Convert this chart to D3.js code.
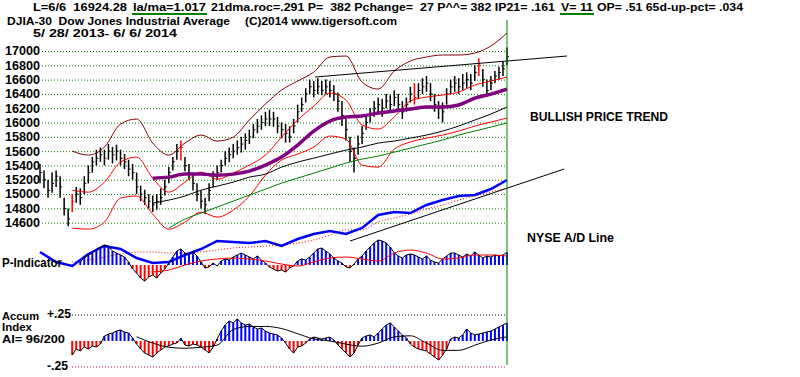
<!DOCTYPE html>
<html>
<head>
<meta charset="utf-8">
<script src="https://cdn.jsdelivr.net/npm/d3@7"></script>
<style>
  body { margin: 0; background: #fff; }
  svg { display: block; font-family: "Liberation Sans", Arial, sans-serif; font-weight: bold; }
  text { white-space: pre; }
</style>
</head>
<body>
<div id="chart"></div>
<script>
// ---- data ----
const priceTicks = [14600, 14800, 15000, 15200, 15400, 15600, 15800, 16000, 16200, 16400, 16600, 16800, 17000];

// daily-ish bars, 5/28/2013 .. 6/6/2014
const barClose = [
  15300,15200,15050,15150,15250,15100,14800,14650,14900,15000,
  14950,15150,15300,15450,15500,15550,15500,15600,15550,15600,
  15500,15450,15350,15300,15100,15000,14950,14900,14850,14900,
  14950,15100,15300,15450,15600,15650,15400,15300,15150,15000,
  14900,14850,15050,15250,15300,15400,15500,15550,15600,15650,
  15700,15750,15800,15900,15950,16000,16050,16050,16050,15950,
  15900,15850,15800,15950,16150,16250,16400,16500,16450,16500,
  16450,16500,16450,16400,16300,16100,15900,15600,15500,15700,
  15850,16000,16100,16200,16250,16200,16300,16250,16350,16250,
  16150,16250,16400,16350,16450,16500,16550,16400,16250,16200,
  16150,16400,16500,16550,16500,16550,16600,16550,16700,16800,
  16600,16450,16550,16650,16700,16750,16920
];
const barHi = [
  15420,15330,15200,15300,15330,15250,14950,14800,15000,15100,
  15080,15250,15400,15520,15620,15650,15620,15700,15660,15690,
  15620,15560,15480,15420,15300,15120,15060,15000,14980,15000,
  15080,15200,15380,15520,15700,15750,15520,15420,15300,15150,
  15050,14950,15150,15320,15400,15480,15600,15650,15700,15750,
  15800,15850,15900,15980,16050,16100,16150,16180,16150,16080,
  16000,15980,15950,16050,16250,16350,16480,16600,16580,16620,
  16580,16600,16580,16520,16420,16300,16050,15800,15650,15820,
  15950,16100,16200,16300,16350,16330,16400,16380,16450,16400,
  16300,16350,16500,16550,16550,16620,16650,16550,16400,16300,
  16280,16480,16600,16650,16620,16680,16700,16680,16800,16900,
  16750,16600,16650,16720,16780,16850,17050
];
const barLo = [
  15150,15080,14950,15020,15100,14950,14700,14550,14750,14880,
  14850,15000,15150,15300,15400,15450,15400,15480,15430,15470,
  15400,15350,15250,15200,15000,14900,14850,14800,14750,14780,
  14850,14980,15150,15330,15480,15470,15320,15200,15050,14900,
  14800,14720,14900,15100,15200,15300,15400,15450,15500,15550,
  15580,15620,15700,15780,15850,15900,15950,15950,15940,15850,
  15780,15720,15720,15850,16000,16150,16280,16400,16350,16400,
  16380,16400,16350,16300,16150,15950,15750,15450,15300,15550,
  15700,15900,16000,16080,16130,16080,16200,16150,16230,16150,
  16050,16150,16280,16250,16330,16400,16430,16300,16150,16050,
  16000,16250,16400,16430,16400,16450,16480,16450,16580,16650,
  16500,16360,16450,16550,16600,16650,16800
];
const redBars = [8, 35, 93, 109];

// overlay lines, sampled every 4th bar
const ovIdx = [0,4,8,12,16,20,24,28,32,36,40,44,48,52,56,60,64,68,72,76,80,84,88,92,96,100,104,108,112,116];
const brownBand = [null,null,15601,15545,15657,15979,16049,15713,15545,15713,15825,15741,15797,16035,16259,16454,16580,16706,16916,16930,16566,16468,16720,16860,16916,16944,16944,16972,17070,17252];
const redUpper  = [null,null,15055,15027,15167,15447,15517,15223,15027,15167,15307,15209,15293,15405,15545,15797,16035,16230,16412,16314,15965,15909,16077,16301,16356,16384,16426,16524,16580,16636];
const redLower  = [null,null,14524,14510,14608,14944,14972,14720,14510,14608,14748,14678,14776,14972,15265,15475,15559,15657,15811,15769,15405,15377,15629,15727,15783,15825,15881,15951,16007,16063];
const purpleMA  = [null,null,null,null,null,null,null,15223,15237,15279,15279,15265,15279,15321,15405,15517,15685,15881,16021,16077,16091,16133,16161,16189,16217,16217,16245,16342,16398,16468];
const blackMA   = [null,null,null,null,null,null,null,14874,14916,14972,15055,15111,15167,15237,15279,15377,15447,15503,15559,15615,15657,15713,15741,15783,15825,15881,15951,16035,16119,16217];
const greenMA   = [null,null,null,null,null,null,null,null,14524,14650,14734,14818,14902,14986,15069,15153,15223,15293,15363,15433,15489,15531,15587,15643,15699,15755,15825,15881,15937,15993];
const adLine    = [28,18,14,26,34,31,22,17,18,25,31,39,38,37,39,34,41,46,49,46,52,65,68,67,75,80,84,85,91,100];
const adMA      = [null,null,18,20,23,26,28,28,27,27,28,30,32,33,34,35,37,40,45,50,50,58,62,66,71,75,80,84,88,92];
const pMA       = [null,null,null,null,null,null,null,-210,-150,0,120,180,210,180,120,30,-30,90,210,240,180,120,360,450,360,180,210,300,300,270];
const aiMA      = [null,null,null,null,null,null,0.04,-0.02,-0.06,-0.07,-0.06,-0.04,0.11,0.14,0.14,0.12,0.07,0.02,0,-0.03,-0.05,-0.02,0.04,0.05,-0.02,-0.09,-0.09,-0.04,0.01,0.04];

// trend lines: [bar index, value]
const priceTrend = [[68.3, 16636], [130.9, 16930]];
const adTrend = [[77, 39], [130.2, 111]];

// P-Indicator, one per bar
const pInd = [
  null,null,null,null,null,null,null,null,null,null,
  90,240,300,360,480,540,600,570,420,360,
  300,240,90,-120,-240,-390,-480,-360,-300,-390,
  -240,-120,60,240,420,480,360,300,390,270,
  90,-90,-60,60,-30,120,180,150,240,300,
  360,300,240,180,270,150,60,-60,-120,-180,
  -150,-210,-90,-30,120,180,150,240,360,480,
  510,420,330,210,120,60,-60,-90,30,180,
  270,420,540,660,750,720,660,540,360,270,
  210,300,330,300,240,180,270,150,90,60,
  180,270,360,360,300,240,330,270,390,300,
  210,270,240,300,270,300,382
];
// Accumulation index, one per bar
const accum = [
  null,null,null,null,null,null,null,null,-0.135,-0.077,
  -0.096,-0.058,-0.077,-0.048,-0.058,-0.029,0.048,0.067,0.077,0.096,
  0.106,0.087,0.077,0.029,-0.029,-0.077,-0.115,-0.135,-0.154,-0.115,
  -0.087,-0.058,-0.048,-0.029,-0.019,0.029,-0.038,-0.048,-0.029,-0.038,
  -0.058,-0.087,-0.115,-0.058,0.019,0.096,0.154,0.192,0.173,0.212,
  0.173,0.154,0.163,0.135,0.115,0.125,0.096,0.077,0.067,0.058,
  0.029,-0.019,-0.077,-0.115,-0.058,-0.048,-0.019,0.019,0.038,0.029,
  0.019,0.029,0.038,0.010,-0.038,-0.077,-0.115,-0.154,-0.115,-0.038,
  0.029,0.048,0.058,0.038,0.077,0.115,0.154,0.173,0.135,0.096,
  0.058,0.029,-0.029,-0.058,-0.077,-0.087,-0.096,-0.125,-0.154,-0.183,
  -0.135,-0.077,0.019,0.038,0.029,0.058,0.115,0.077,0.058,0.067,
  0.077,0.087,0.096,0.115,0.135,0.154,0.173
];

// ---- drawing ----
const W = 800, H = 377;
const n = barClose.length;

const svg = d3.select("#chart").append("svg")
  .attr("width", W).attr("height", H);

const x   = d3.scaleLinear().domain([0, n - 1]).range([40, 507]);
const y   = d3.scaleLinear().domain([14600, 17000]).range([222.7, 51]);
const yAD = d3.scaleLinear().domain([0, 100]).range([280, 180]);
const yP  = d3.scaleLinear().domain([0, 300]).range([265, 255]);
const yAI = d3.scaleLinear().domain([-0.25, 0.25]).range([367, 315]);

// header
function txt(s, px, py, len, size) {
  const t = svg.append("text").attr("x", px).attr("y", py)
    .attr("font-size", size || 12).text(s);
  if (len) t.attr("textLength", len).attr("lengthAdjust", "spacingAndGlyphs");
  return t;
}
txt("L=6/6  16924.28", 33, 11, 94, 11);
txt("la/ma=1.017", 133, 11, 73, 11);
txt("21dma.roc=.291 P=  382 Pchange=  27 P^^= 382 IP21= .161", 211, 11, 344, 11);
txt("V= 11", 561, 11, 32, 11);
txt("OP= .51 65d-up-pct= .034", 597, 11, 146, 11);
svg.append("line").attr("x1", 132).attr("x2", 207).attr("y1", 14).attr("y2", 14)
  .attr("stroke", "#008000").attr("stroke-width", 2);
svg.append("line").attr("x1", 560).attr("x2", 594).attr("y1", 14).attr("y2", 14)
  .attr("stroke", "#008000").attr("stroke-width", 2);
txt("DJIA-30  Dow Jones Industrial Average", 7, 25, 223, 11);
txt("(C)2014 www.tigersoft.com", 245, 25, 152, 11);
txt("5/ 28/ 2013- 6/ 6/ 2014", 33, 37, 144, 11);

// price grid
svg.append("g")
  .attr("transform", "translate(42,0)")
  .call(d3.axisLeft(y).tickValues(priceTicks).tickSize(-(507 - 42)).tickFormat(""))
  .call(g => g.select(".domain").remove())
  .selectAll("line")
    .attr("stroke", "#008000")
    .attr("stroke-dasharray", "1,2");

// price labels
svg.append("g")
  .attr("transform", "translate(40,0)")
  .call(d3.axisLeft(y).tickValues(priceTicks).tickSize(0).tickPadding(0).tickFormat(d3.format("d")))
  .call(g => g.select(".domain").remove())
  .selectAll("text")
    .attr("font-family", "Liberation Sans, Arial, sans-serif")
    .attr("font-weight", "bold")
    .attr("font-size", 12)
    .attr("textLength", 35)
    .attr("lengthAdjust", "spacingAndGlyphs")
    .attr("fill", "#000");

// price bars
const bars = svg.append("g");
d3.range(n).forEach(i => {
  const col = redBars.includes(i) ? "#ff0000" : "#000";
  bars.append("line")
    .attr("x1", x(i)).attr("x2", x(i))
    .attr("y1", y(barHi[i])).attr("y2", y(barLo[i]))
    .attr("stroke", col).attr("stroke-width", 1.5);
  bars.append("line")
    .attr("x1", x(i)).attr("x2", x(i) + 2)
    .attr("y1", y(barClose[i])).attr("y2", y(barClose[i]))
    .attr("stroke", col).attr("stroke-width", 1);
});

function sampled(arr) {
  return ovIdx.map((i, k) => [i, arr[k]]).filter(d => d[1] !== null);
}
function drawLine(pts, sy, color, width, dash, curve) {
  const line = d3.line()
    .x(d => x(d[0])).y(d => sy(d[1]))
    .curve(curve || d3.curveMonotoneX);
  const p = svg.append("path").datum(pts)
    .attr("d", line).attr("fill", "none")
    .attr("stroke", color).attr("stroke-width", width);
  if (dash) p.attr("stroke-dasharray", dash);
  return p;
}

drawLine(sampled(brownBand), y, "#800000", 1);
drawLine(sampled(redUpper), y, "#ff0000", 1);
drawLine(sampled(redLower), y, "#ff0000", 1);
drawLine(sampled(greenMA), y, "#008000", 1);
drawLine(sampled(blackMA), y, "#000", 1);
drawLine(sampled(purpleMA), y, "#800080", 3.5);
drawLine(priceTrend, y, "#000", 1, null, d3.curveLinear);

// A/D line
drawLine(sampled(adMA), yAD, "#ff0000", 1, "1,2");
drawLine(sampled(adLine), yAD, "#0000ff", 2.5, null, d3.curveLinear);
drawLine(adTrend, yAD, "#000", 1, null, d3.curveLinear);

// P-Indicator
const pG = svg.append("g");
d3.range(n).filter(i => pInd[i] !== null).forEach(i => {
  pG.append("line")
    .attr("x1", x(i)).attr("x2", x(i))
    .attr("y1", yP(0)).attr("y2", yP(pInd[i]))
    .attr("stroke", pInd[i] >= 0 ? "#0000ff" : "#ff0000")
    .attr("stroke-width", 2);
});
drawLine(d3.range(n).filter(i => pInd[i] !== null).map(i => [i, pInd[i]]), yP, "#000", 1, null, d3.curveLinear);
drawLine(sampled(pMA), yP, "#ff0000", 1);

// Accumulation index
[[0.25, "#000"], [-0.25, "#e0006a"]].forEach(([v, c]) => {
  svg.append("line")
    .attr("x1", 72).attr("x2", 507)
    .attr("y1", yAI(v)).attr("y2", yAI(v))
    .attr("stroke", c).attr("stroke-dasharray", "1,2");
});
const aG = svg.append("g");
d3.range(n).filter(i => accum[i] !== null).forEach(i => {
  aG.append("line")
    .attr("x1", x(i)).attr("x2", x(i))
    .attr("y1", yAI(0)).attr("y2", yAI(accum[i]))
    .attr("stroke", accum[i] >= 0 ? "#0000ff" : "#ff0000")
    .attr("stroke-width", 2);
});
drawLine(d3.range(n).filter(i => accum[i] !== null).map(i => [i, accum[i]]), yAI, "#000", 1, null, d3.curveLinear);
drawLine(sampled(aiMA), yAI, "#000", 1);

// current-day marker
svg.append("line")
  .attr("x1", x(n - 1)).attr("x2", x(n - 1))
  .attr("y1", 20).attr("y2", 365)
  .attr("stroke", "#008000").attr("stroke-width", 1);

// side labels
txt("BULLISH PRICE TREND", 530, 121, 138);
txt("NYSE A/D Line", 527, 242, 87);
txt("P-Indicator", 2, 267, 60);
txt("Accum", 2, 320, 37, 10.5);
txt("Index", 2, 331, 30, 10.5);
txt("AI= 96/200", 2, 343, 63, 10.5);
txt("+.25", 47, 318, 24);
txt("-.25", 47, 370, 21);
</script>
</body>
</html>
